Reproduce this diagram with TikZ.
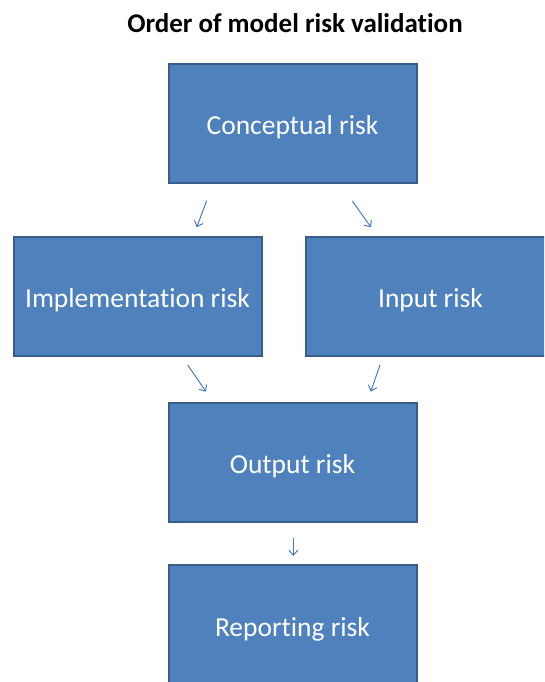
\documentclass[tikz,border=0pt]{standalone}
\usepackage{fontspec}
\setmainfont{Carlito}[Ligatures={NoCommon}]
\usetikzlibrary{arrows.meta}
\definecolor{boxfill}{HTML}{4F81BD}
\definecolor{boxline}{HTML}{385D8A}
\definecolor{arrowcol}{HTML}{4A7EBB}
\tikzset{
  riskbox/.style={draw=boxline, line width=2pt, fill=boxfill, text=white,
    minimum width=248pt, minimum height=119pt, inner sep=0pt,
    text height=28pt, text depth=5.5pt,
    font=\fontsize{27.5}{32}\selectfont},
  flowarrow/.style={draw=arrowcol, line width=1pt,
    -{Straight Barb[length=5pt,width=9pt]}}
}
\begin{document}
\begin{tikzpicture}[x=1pt,y=-1pt]
\clip (0,0) rectangle (544,682);
\fill[white] (0,0) rectangle (544,682);
\node[font=\bfseries\fontsize{27}{32}\selectfont] (title) at (295,23) {Order of model risk validation};
\node[riskbox] (concept) at (292.5,123.5) {Conceptual risk};
\node[riskbox] (impl) at (137.5,296.5) {Implementation risk};
\node[riskbox, minimum width=280pt] (input) at (446,296.5) {Input risk\hspace*{31pt}};
\node[riskbox] (output) at (292.5,462.5) {Output risk};
\node[riskbox, minimum height=121pt] (report) at (292.5,625) {Reporting risk};
\coordinate (a1s) at (206.7,200.7);
\coordinate (a1e) at (196.7,227.3);
\coordinate (a2s) at (352.3,201);
\coordinate (a2e) at (371,227.3);
\coordinate (a3s) at (187.7,365);
\coordinate (a3e) at (206,391.7);
\coordinate (a4s) at (380,365);
\coordinate (a4e) at (370.7,391.7);
\coordinate (a5s) at (293.3,538.3);
\coordinate (a5e) at (293.3,556);
\draw[flowarrow] (a1s) -- (a1e);
\draw[flowarrow] (a2s) -- (a2e);
\draw[flowarrow] (a3s) -- (a3e);
\draw[flowarrow] (a4s) -- (a4e);
\draw[flowarrow] (a5s) -- (a5e);
\end{tikzpicture}
\end{document}
